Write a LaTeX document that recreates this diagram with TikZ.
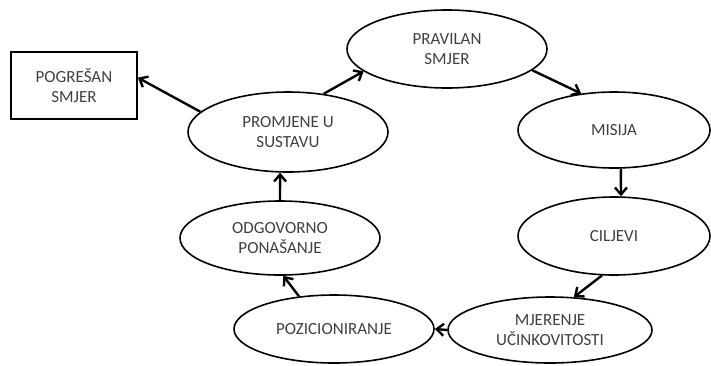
\documentclass[tikz,border=0pt]{standalone}
\usepackage{fontspec}
\setmainfont{Carlito}
\usetikzlibrary{shapes.geometric,arrows.meta}

\tikzset{
  korak/.style={draw, ellipse, line width=1.6pt, inner sep=0pt, align=center,
    text=black!75, font=\fontsize{17}{20.5}\selectfont},
  okvir/.style={draw, rectangle, line width=1.8pt, inner sep=0pt, align=center,
    text=black!75, font=\fontsize{17}{20.5}\selectfont},
  strelica/.style={-{Straight Barb[length=7pt,width=12pt]}, line width=2.4pt},
}

\begin{document}
\begin{tikzpicture}[x=1pt,y=-1pt]
        \useasboundingbox (0,0) rectangle (711,365);
        \node[korak, minimum width=200pt, minimum height=78pt] (pravilan) at (447,49) {PRAVILAN\\SMJER};
        \node[korak, minimum width=192pt, minimum height=76pt] (misija) at (614,130) {MISIJA};
        \node[korak, minimum width=192pt, minimum height=78pt] (ciljevi) at (614,236) {CILJEVI};
        \node[korak, minimum width=204pt, minimum height=66pt] (mjerenje) at (550,330) {MJERENJE\\UČINKOVITOSTI};
        \node[korak, minimum width=200pt, minimum height=68pt] (pozicioniranje) at (334,329) {POZICIONIRANJE};
        \node[korak, minimum width=200pt, minimum height=74pt] (odgovorno) at (280,238) {ODGOVORNO\\PONAŠANJE};
        \node[korak, minimum width=200pt, minimum height=80pt] (promjene) at (288,132) {PROMJENE U\\SUSTAVU};
        \node[okvir, minimum width=126pt, minimum height=67pt] (pogresan) at (74,85.5) {POGREŠAN\\SMJER};
        \draw[strelica] (pravilan.-14) -- (misija.132);
        \draw[strelica] (misija.-80) -- (ciljevi.80);
        \draw[strelica] (ciljevi.-107) -- (mjerenje.54);
        \draw[strelica] (mjerenje.west) -- (pozicioniranje.east);
        \draw[strelica] (pozicioniranje.137) -- (odgovorno.-85);
        \draw[strelica] (odgovorno.north) -- (promjene.-101);
        \draw[strelica] (promjene.47) -- (pravilan.195);
        \draw[strelica] (promjene.167) -- (pogresan.7);
\end{tikzpicture}
\end{document}
